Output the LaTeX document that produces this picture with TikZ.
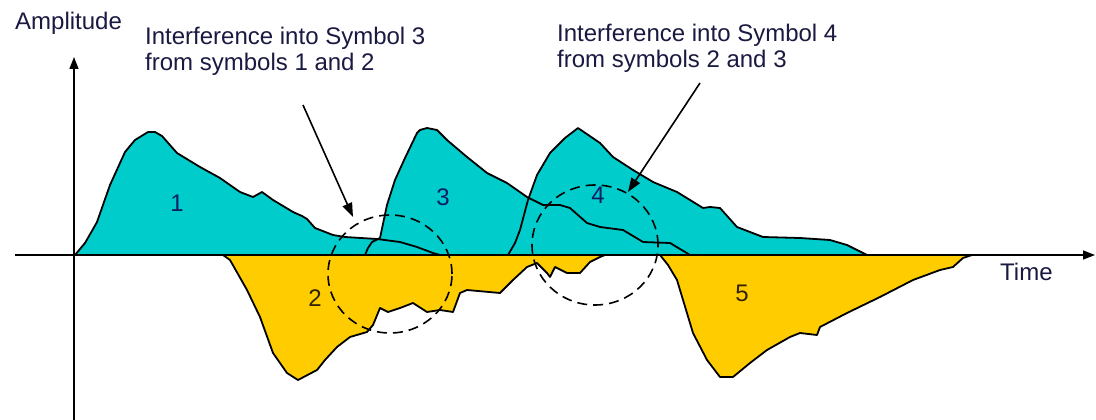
\documentclass[tikz,border=0pt]{standalone}
\usepackage{fontspec}
\setmainfont{Liberation Sans}
\usetikzlibrary{arrows.meta,shapes.geometric}
\definecolor{symcyan}{RGB}{0,204,204}
\definecolor{symyellow}{RGB}{255,204,0}
\definecolor{txt}{RGB}{25,25,65}
\definecolor{numblue}{RGB}{15,30,100}
\definecolor{numdark}{RGB}{50,35,0}
\begin{document}
\begin{tikzpicture}[x=1pt,y=-1pt,
  outline/.style={line width=1.8pt, line join=round, rounded corners=2pt},
  upfill/.style={fill=symcyan, rounded corners=2pt},
  downfill/.style={fill=symyellow, rounded corners=2pt},
  lbl/.style={font=\fontsize{24}{26}\selectfont, text=txt, inner sep=0pt, align=left},
  num/.style={font=\fontsize{24}{26}\selectfont, inner sep=0pt},
  axisline/.style={line width=1.6pt, -{Triangle[length=12pt,width=9pt]}},
  pointer/.style={line width=1.6pt, -{Triangle[length=14pt,width=10pt]}},
  zone/.style={draw, ellipse, dash pattern=on 10pt off 6pt, line width=1.6pt, inner sep=0pt}]
\useasboundingbox (0,0) rectangle (1096,420);

% shapes (saved paths)
\path[save path=\pA] (75,255) -- (85,243) -- (97,222) -- (110,185) -- (125,152) -- (135,140) -- (148,132) -- (155,132) -- (162,136) -- (177,153) -- (200,167) -- (220,178) -- (240,192) -- (253,197) -- (262,192) -- (273,200) -- (293,212) -- (302,216) -- (307,219) -- (315,228) -- (333,235) -- (345,237) -- (377,239) -- (400,242) -- (417,247) -- (433,253) -- (440,255) -- cycle;
\path[save path=\pC] (365,255) -- (368,248) -- (372,242) -- (380,238) -- (387,205) -- (395,180) -- (405,158) -- (417,133) -- (420,130) -- (427,128) -- (437,130) -- (447,140) -- (467,157) -- (487,173) -- (507,183) -- (527,197) -- (543,205) -- (560,205) -- (570,208) -- (587,223) -- (600,227) -- (623,230) -- (643,242) -- (670,243) -- (690,255) -- cycle;
\path[save path=\pD] (508,255) -- (515,243) -- (520,230) -- (528,200) -- (537,175) -- (550,153) -- (565,138) -- (578,128) -- (600,143) -- (613,157) -- (633,170) -- (653,182) -- (677,192) -- (703,208) -- (710,207) -- (720,208) -- (737,227) -- (763,237) -- (800,238) -- (830,240) -- (847,245) -- (867,255) -- cycle;
\path[save path=\pB] (223,255) -- (230,260) -- (247,290) -- (260,317) -- (273,353) -- (287,373) -- (298,380) -- (317,370) -- (325,360) -- (337,347) -- (350,337) -- (367,332) -- (373,325) -- (380,308) -- (388,312) -- (400,308) -- (413,303) -- (427,312) -- (440,310) -- (453,312) -- (460,293) -- (467,290) -- (500,293) -- (513,280) -- (527,267) -- (537,263) -- (547,273) -- (550,277) -- (555,267) -- (567,273) -- (580,273) -- (590,262) -- (600,257) -- (605,255) -- cycle;
\path[save path=\pE] (660,255) -- (668,265) -- (677,280) -- (693,333) -- (707,360) -- (720,377) -- (733,377) -- (750,363) -- (767,350) -- (790,337) -- (800,333) -- (817,335) -- (820,327) -- (847,313) -- (880,297) -- (913,280) -- (940,270) -- (953,267) -- (963,258) -- (972,255) -- cycle;

\fill[upfill, use path=\pA];
\fill[upfill, use path=\pC];
\fill[upfill, use path=\pD];
\fill[downfill, use path=\pB];
\fill[downfill, use path=\pE];
\draw[outline, use path=\pA];
\draw[outline, use path=\pC];
\draw[outline, use path=\pD];
\draw[outline, use path=\pB];
\draw[outline, use path=\pE];

% axes
\coordinate (xs) at (15,255);
\coordinate (xe) at (1095,255);
\coordinate (ys) at (74,420);
\coordinate (ye) at (74,57);
\draw[axisline] (xs) -- (xe);
\draw[axisline] (ys) -- (ye);

% numbers
\node[num, text=numblue] (n1) at (177,203) {1};
\node[num, text=numdark] (n2) at (315,298) {2};
\node[num, text=numblue] (n3) at (443,197) {3};
\node[num, text=numblue] (n4) at (598,195) {4};
\node[num, text=numdark] (n5) at (742,293) {5};

% interference zones
\node[zone, minimum width=124pt, minimum height=118pt] (z3) at (390,274) {};
\node[zone, minimum width=126pt, minimum height=120pt] (z4) at (595,245) {};

% labels
\node[lbl, anchor=base west] (amp) at (15,30) {Amplitude};
\node[lbl, anchor=base west] (time) at (1000,280) {Time};
\node[lbl, anchor=base west] (note3) at (145,71) {Interference into Symbol 3\\from symbols 1 and 2};
\node[lbl, anchor=base west] (note4) at (557,68) {Interference into Symbol 4\\from symbols 2 and 3};

% pointers
\coordinate (p3s) at (303,105);
\coordinate (p3e) at (353,217);
\coordinate (p4s) at (700,83);
\coordinate (p4e) at (628,192);
\draw[pointer] (p3s) -- (p3e);
\draw[pointer] (p4s) -- (p4e);
\end{tikzpicture}
\end{document}
